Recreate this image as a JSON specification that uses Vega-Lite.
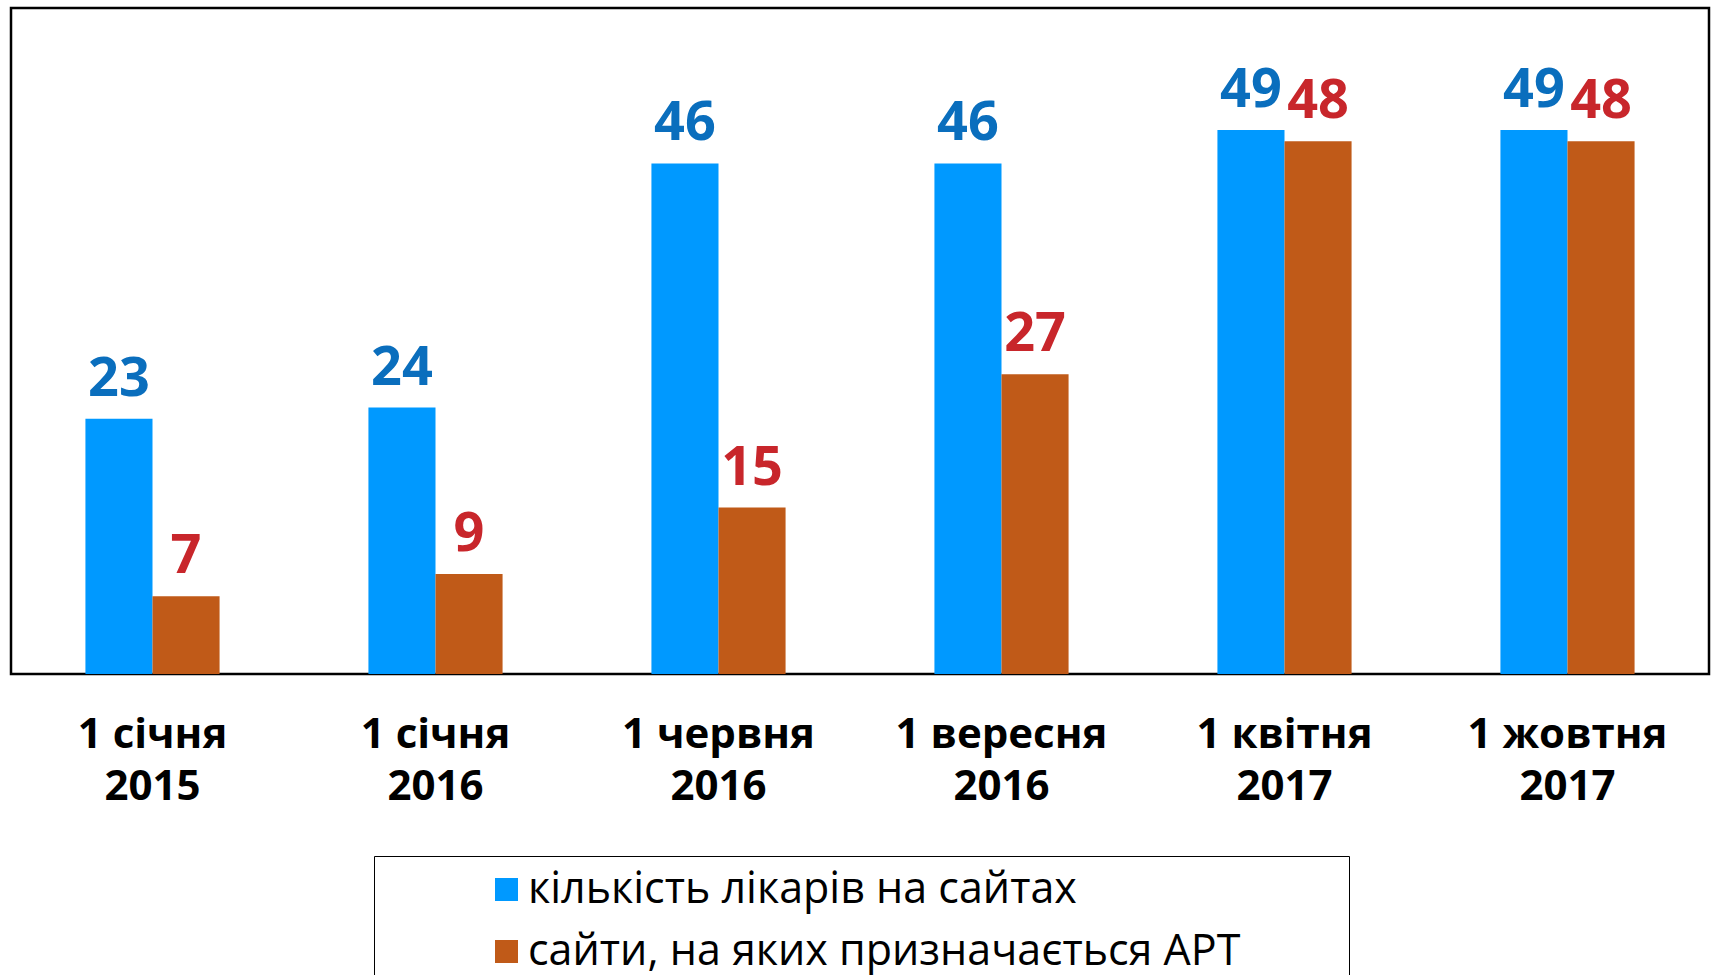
{
  "$schema": "https://vega.github.io/schema/vega-lite/v6.json",
  "width": 1698,
  "height": 666,
  "autosize": {"type": "none"},
  "padding": {"left": 11, "top": 8, "right": 5, "bottom": 301},
  "background": "white",
  "config": {"view": {"stroke": "#000", "strokeWidth": 2.5}, "font": "Open Sans"},
  "data": {"values": [
    {"period": "1 січня 2015", "series": "кількість лікарів на сайтах", "value": 23},
    {"period": "1 січня 2015", "series": "сайти, на яких призначається АРТ", "value": 7},
    {"period": "1 січня 2016", "series": "кількість лікарів на сайтах", "value": 24},
    {"period": "1 січня 2016", "series": "сайти, на яких призначається АРТ", "value": 9},
    {"period": "1 червня 2016", "series": "кількість лікарів на сайтах", "value": 46},
    {"period": "1 червня 2016", "series": "сайти, на яких призначається АРТ", "value": 15},
    {"period": "1 вересня 2016", "series": "кількість лікарів на сайтах", "value": 46},
    {"period": "1 вересня 2016", "series": "сайти, на яких призначається АРТ", "value": 27},
    {"period": "1 квітня 2017", "series": "кількість лікарів на сайтах", "value": 49},
    {"period": "1 квітня 2017", "series": "сайти, на яких призначається АРТ", "value": 48},
    {"period": "1 жовтня 2017", "series": "кількість лікарів на сайтах", "value": 49},
    {"period": "1 жовтня 2017", "series": "сайти, на яких призначається АРТ", "value": 48}
  ]},
  "encoding": {
    "x": {
      "field": "period", "type": "nominal", "sort": null,
      "scale": {"paddingInner": 0.526, "paddingOuter": 0.263},
      "axis": {
        "title": null, "domain": false, "ticks": false, "labelAngle": 0,
        "labelFontSize": 42, "labelFontWeight": "bold", "labelColor": "#000",
        "labelPadding": 40, "labelLineHeight": 52, "labelLimit": 0,
        "labelExpr": "[slice(datum.label, 0, lastindexof(datum.label, ' ')), slice(datum.label, lastindexof(datum.label, ' ') + 1)]"
      }
    },
    "xOffset": {
      "field": "series", "type": "nominal",
      "sort": ["кількість лікарів на сайтах", "сайти, на яких призначається АРТ"],
      "scale": {"paddingInner": 0, "paddingOuter": 0}
    },
    "y": {"field": "value", "type": "quantitative", "scale": {"domain": [0, 60]}, "axis": null}
  },
  "layer": [
    {
      "mark": {"type": "bar"},
      "encoding": {
        "color": {
          "field": "series", "type": "nominal",
          "sort": ["кількість лікарів на сайтах", "сайти, на яких призначається АРТ"],
          "scale": {"domain": ["кількість лікарів на сайтах", "сайти, на яких призначається АРТ"], "range": ["#0099FF", "#C05A18"]},
          "legend": {
            "orient": "none", "legendX": 363, "legendY": 848,
            "title": "\u00a0", "titleOrient": "left", "titleFontSize": 1, "titlePadding": 99,
            "padding": 12, "strokeColor": "#000",
            "symbolType": "square", "symbolSize": 529, "symbolStrokeWidth": 0, "symbolOpacity": 1,
            "labelFontSize": 43, "labelFont": "Open Sans", "labelColor": "#000", "labelLimit": 0,
            "rowPadding": 18, "labelOffset": 0,
            "labelExpr": "datum.label + '\u2800\u2800\u2800'"
          }
        }
      }
    },
    {
      "mark": {"type": "text", "dy": -23, "baseline": "alphabetic", "fontSize": 54, "fontWeight": "bold", "font": "Open Sans"},
      "encoding": {
        "text": {"field": "value", "type": "quantitative"},
        "color": {
          "field": "series", "type": "nominal",
          "scale": {"domain": ["кількість лікарів на сайтах", "сайти, на яких призначається АРТ"], "range": ["#0A6EBD", "#C8262B"]},
          "legend": null
        }
      }
    }
  ],
  "resolve": {"scale": {"color": "independent"}}
}
